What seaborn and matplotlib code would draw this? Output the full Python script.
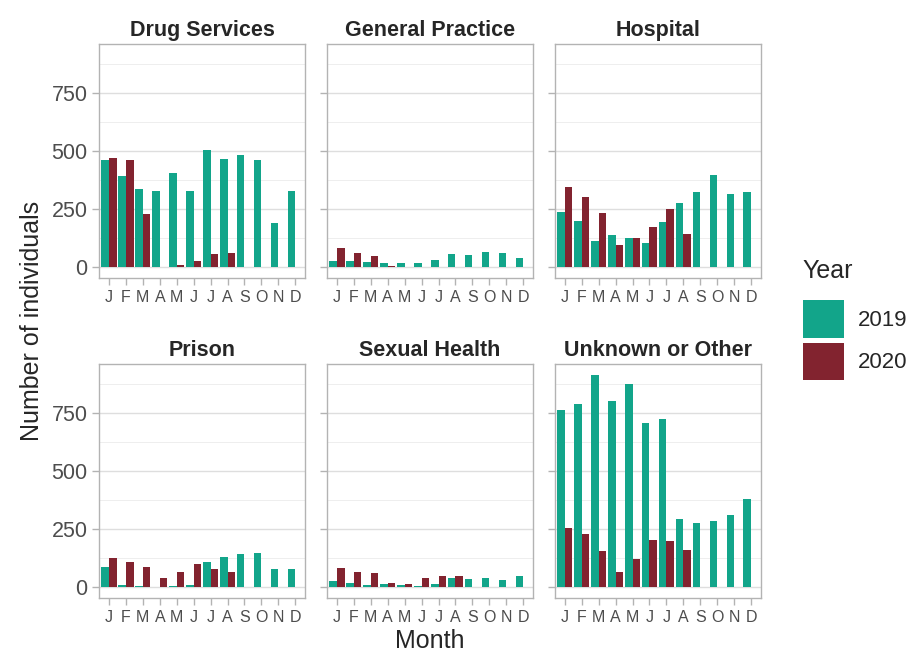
import numpy as np
import pandas as pd
import matplotlib
matplotlib.use("Agg")
import matplotlib.pyplot as plt
from matplotlib.patches import Patch
import seaborn as sns

months = ["J", "F", "M", "A", "M ", "J ", "J  ", "A ", "S", "O", "N", "D"]
month_labels = ["J", "F", "M", "A", "M", "J", "J", "A", "S", "O", "N", "D"]
services = ["Drug Services", "General Practice", "Hospital",
            "Prison", "Sexual Health", "Unknown or Other"]
years = ["2019", "2020"]

drug_2019 = [459, 393, 337, 329, 406, 326, 503, 466, 481, 461, 191, 329]
drug_2020 = [469, 461, 229, 2, 10, 26, 56, 61]
gp_2019 = [26, 26, 23, 20, 20, 17, 33, 57, 54, 66, 63, 39]
gp_2020 = [81, 61, 46, 7, 0, 0, 0, 0]
hosp_2019 = [237, 200, 111, 139, 124, 103, 193, 276, 321, 396, 314, 321]
hosp_2020 = [343, 301, 233, 94, 126, 174, 249, 143]
prison_2019 = [86, 11, 7, 0, 4, 11, 109, 129, 143, 146, 77, 80]
prison_2020 = [127, 109, 86, 39, 64, 99, 80, 64]
sexual_2019 = [27, 20, 9, 14, 9, 3, 14, 40, 33, 39, 29, 46]
sexual_2020 = [83, 67, 60, 20, 14, 41, 49, 46]
other_2019 = [761, 786, 913, 801, 871, 706, 723, 291, 277, 284, 309, 377]
other_2020 = [253, 229, 154, 67, 121, 201, 197, 159]

series = {
    "Drug Services": (drug_2019, drug_2020),
    "General Practice": (gp_2019, gp_2020),
    "Hospital": (hosp_2019, hosp_2020),
    "Prison": (prison_2019, prison_2020),
    "Sexual Health": (sexual_2019, sexual_2020),
    "Unknown or Other": (other_2019, other_2020),
}

rows = []
for s in services:
    v19, v20 = series[s]
    for i, v in enumerate(v19):
        rows.append((s, months[i], "2019", v))
    for i, v in enumerate(v20):
        rows.append((s, months[i], "2020", v))
df = pd.DataFrame(rows, columns=["Service", "Month", "Year", "Count"])

palette = {"2019": "#12A58A", "2020": "#82232F"}

sns.set_theme(style="white")
plt.rcParams["font.family"] = ["Liberation Sans", "DejaVu Sans"]

fig, axes = plt.subplots(2, 3, figsize=(9.15, 6.57), dpi=100, sharey=True)
fig.subplots_adjust(left=0.108, right=0.832, top=0.933, bottom=0.090,
                    wspace=0.103, hspace=0.368)

for ax, s in zip(axes.flat, services):
    sub = df[df["Service"] == s]
    sns.barplot(data=sub, x="Month", y="Count", hue="Year", order=months,
                hue_order=years, palette=palette, width=0.9, errorbar=None,
                saturation=1, legend=False, ax=ax, zorder=3,
                linewidth=0, edgecolor="none")
    ax.set_xlim(-0.6, 11.6)
    ax.set_ylim(-46, 959)
    ax.set_yticks([0, 250, 500, 750])
    ax.set_yticks([125, 375, 625, 875], minor=True)
    ax.set_xticks(range(12))
    ax.set_xticklabels(month_labels)
    ax.grid(axis="y", which="major", color="#DEDEDE", linewidth=1.0, zorder=0)
    ax.grid(axis="y", which="minor", color="#EEEEEE", linewidth=0.7, zorder=0)
    ax.grid(axis="x", visible=False)
    ax.set_axisbelow(True)
    for sp in ax.spines.values():
        sp.set_color("#B3B3B3")
        sp.set_linewidth(1.0)
    ax.tick_params(axis="x", which="major", length=5, width=1, color="#B3B3B3",
                   labelsize=11.5, labelcolor="#4D4D4D", pad=4, direction="out",
                   bottom=True)
    ax.tick_params(axis="y", which="major", length=5, width=1, color="#B3B3B3",
                   labelsize=15.5, labelcolor="#4D4D4D", pad=3, direction="out",
                   left=True)
    ax.tick_params(axis="y", which="minor", length=0)
    ax.set_title(s, fontsize=15.5, fontweight="bold", pad=6)
    ax.set_xlabel("")
    ax.set_ylabel("")

for ax in axes[:, 1:].flat:
    ax.tick_params(axis="y", labelleft=False)

fig.text(0.470, 0.025, "Month", ha="center", va="center", fontsize=18)
fig.text(0.035, 0.512, "Number of individuals", ha="center", va="center",
         rotation=90, fontsize=18)

handles = [Patch(facecolor=palette[y], edgecolor="none", label=y) for y in years]
leg = fig.legend(handles=handles, title="Year", loc="center left",
                 bbox_to_anchor=(0.865, 0.513), frameon=False, fontsize=16,
                 title_fontsize=18, handlelength=1.85, handleheight=2.25,
                 labelspacing=0.2, handletextpad=0.65, borderpad=0.0)
leg._legend_box.align = "left"
leg._legend_box.sep = 12

fig.savefig("out.png", dpi=100)
